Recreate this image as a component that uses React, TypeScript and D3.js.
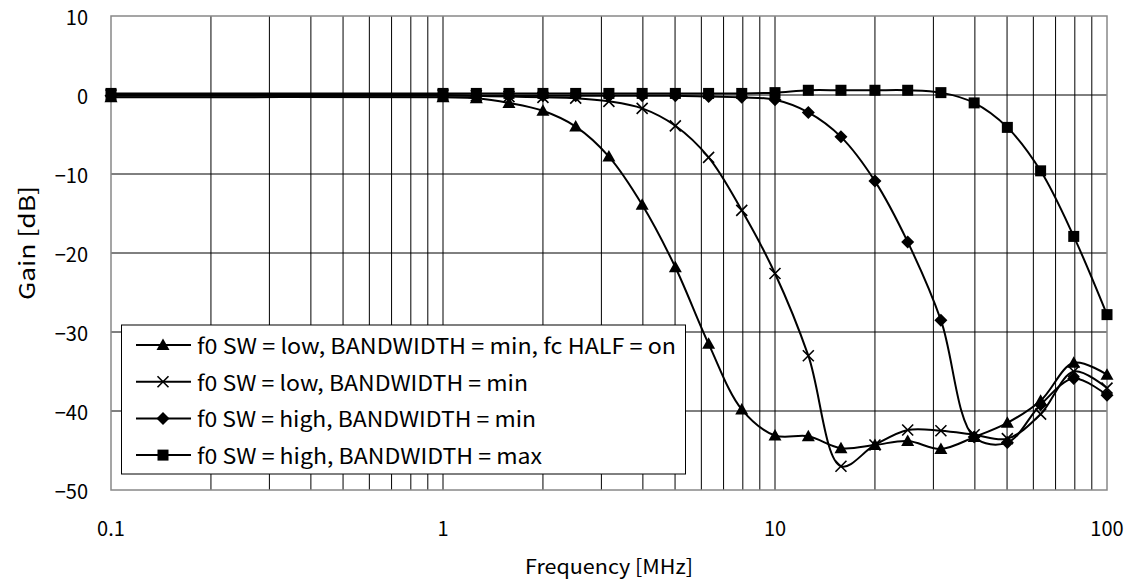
import React from "react";
import * as d3 from "d3";

const freqs = [0.1, 1, 1.26, 1.58, 2, 2.51, 3.16, 3.98, 5.01, 6.31, 7.94, 10, 12.6, 15.8, 20, 25.1, 31.6, 39.8, 50.1, 63.1, 79.4, 100];

const lowMinHalf = [-0.3, -0.3, -0.4, -1.0, -2.0, -4.0, -7.8, -13.9, -21.8, -31.5, -39.8, -43.1, -43.2, -44.7, -44.3, -43.8, -44.8, -43.3, -41.5, -38.7, -33.9, -35.4];
const lowMin = [0, 0, -0.1, -0.2, -0.3, -0.4, -0.8, -1.7, -3.9, -7.9, -14.6, -22.6, -33.0, -47.0, -44.3, -42.4, -42.5, -43.0, -43.5, -40.4, -35.0, -37.1];
const highMin = [-0.1, -0.1, -0.1, -0.1, -0.1, -0.1, -0.1, -0.1, -0.1, -0.2, -0.3, -0.6, -2.2, -5.3, -10.9, -18.6, -28.5, -43.3, -44.0, -39.2, -35.9, -38.0];
const highMax = [0.2, 0.2, 0.2, 0.2, 0.2, 0.2, 0.2, 0.2, 0.2, 0.2, 0.2, 0.3, 0.6, 0.6, 0.6, 0.6, 0.3, -1.0, -4.1, -9.6, -17.9, -27.8];

const seriesNames = [
  "f0 SW = low, BANDWIDTH = min, fc HALF = on",
  "f0 SW = low, BANDWIDTH = min",
  "f0 SW = high, BANDWIDTH = min",
  "f0 SW = high, BANDWIDTH = max",
];
const seriesValues = [lowMinHalf, lowMin, highMin, highMax];
const seriesMarkers = ["triangle", "cross", "diamond", "square"];

const xTicks = [0.1, 1, 10, 100];
const xTickLabels = ["0.1", "1", "10", "100"];
const yTicks = [10, 0, -10, -20, -30, -40, -50];

const W = 1133;
const H = 579;
const L = 111, R = 1107, T = 16, B = 490;
const FONT = "'Noto Sans CJK JP', 'DejaVu Sans', sans-serif";
const legendWidths = [479, 331, 339, 345];

function Marker({ type, x, y }: { type: string; x: number; y: number }) {
  const t = `translate(${x},${y})`;
  if (type === "triangle") return <path transform={t} d="M0,-6.5 L6.5,5 L-6.5,5 Z" fill="#000" />;
  if (type === "diamond") return <path transform={t} d="M0,-6.5 L6.5,0 L0,6.5 L-6.5,0 Z" fill="#000" />;
  if (type === "square") return <rect x={x - 5.5} y={y - 5.5} width={11} height={11} fill="#000" />;
  return <path transform={t} d="M-5.5,-5.5 L5.5,5.5 M5.5,-5.5 L-5.5,5.5" stroke="#000" strokeWidth={1.6} fill="none" />;
}

export default function App() {
  const x = d3.scaleLog().domain([0.1, 100]).range([L, R]);
  const y = d3.scaleLinear().domain([-50, 10]).range([B, T]);

  const minor: number[] = [];
  [0.1, 1, 10].forEach((d) => {
    for (let m = 2; m <= 9; m++) minor.push(d * m);
  });

  const line = d3
    .line<number>()
    .x((_, i) => x(freqs[i]))
    .y((v) => y(v))
    .curve(d3.curveCatmullRom.alpha(0.5));

  const fmt = (d: number) => (d < 0 ? "\u2212" + Math.abs(d) : String(d));

  return (
    <div style={{ position: "absolute", left: 0, top: 0 }}>
      <svg width={W} height={H} style={{ display: "block", background: "#fff" }} fontFamily={FONT}>
        <rect x={0} y={0} width={W} height={H} fill="#fff" />
        {[...minor, 1, 10].map((d, i) => (
          <line key={"v" + i} x1={x(d)} x2={x(d)} y1={T} y2={B} stroke="#000" strokeWidth={1} />
        ))}
        {yTicks.slice(1, -1).map((d) => (
          <line key={"h" + d} x1={L} x2={R} y1={y(d)} y2={y(d)} stroke="#000" strokeWidth={1} />
        ))}
        <rect x={L} y={T} width={R - L} height={B - T} fill="none" stroke="#888" strokeWidth={1.5} />

        {seriesValues.map((vals, si) => (
          <path key={"s" + si} d={line(vals) || ""} fill="none" stroke="#000" strokeWidth={2} />
        ))}
        {seriesValues.map((vals, si) => (
          <g key={"m" + si}>
            {vals.map((v, i) => (
              <Marker key={i} type={seriesMarkers[si]} x={x(freqs[i])} y={y(v)} />
            ))}
          </g>
        ))}

        {yTicks.map((d) => (
          <text key={"yt" + d} x={88} y={y(d)} textAnchor="end" dominantBaseline="central" fontSize={20} fill="#000">
            {fmt(d)}
          </text>
        ))}
        {xTicks.map((d, i) => (
          <text key={"xt" + d} x={x(d)} y={527} textAnchor="middle" dominantBaseline="central" fontSize={20} fill="#000">
            {xTickLabels[i]}
          </text>
        ))}

        <text x={609} y={565} textAnchor="middle" dominantBaseline="central" fontSize={20} fill="#000" textLength={168} lengthAdjust="spacingAndGlyphs">
          Frequency [MHz]
        </text>
        <text
          transform={`translate(25,243) rotate(-90)`}
          textAnchor="middle"
          dominantBaseline="central"
          fontSize={22}
          fill="#000"
          textLength={114}
          lengthAdjust="spacingAndGlyphs"
        >
          Gain [dB]
        </text>

        <rect x={121.5} y={325} width={564} height={149} fill="#fff" stroke="#000" strokeWidth={1} />
        {seriesNames.map((name, i) => {
          const ry = 345 + i * 36.7;
          return (
            <g key={"lg" + i}>
              <line x1={136} x2={191} y1={ry} y2={ry} stroke="#000" strokeWidth={2} />
              <Marker type={seriesMarkers[i]} x={163} y={ry} />
              <text x={197} y={ry} dominantBaseline="central" fontSize={21} fill="#000" textLength={legendWidths[i]} lengthAdjust="spacingAndGlyphs">
                {name}
              </text>
            </g>
          );
        })}
      </svg>
    </div>
  );
}
